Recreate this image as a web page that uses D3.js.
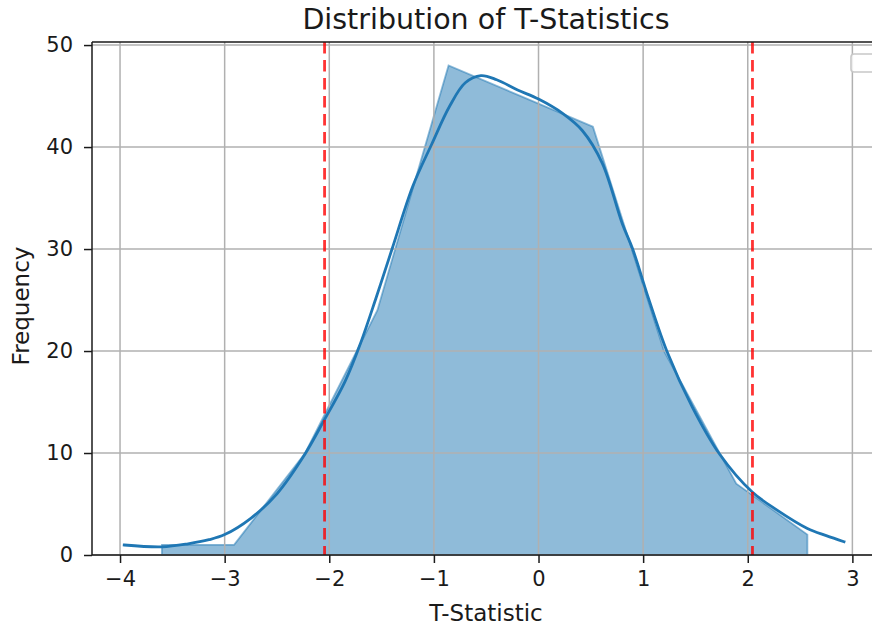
<!DOCTYPE html>
<html>
<head>
<meta charset="UTF-8">
<title>Distribution of T-Statistics</title>
<script src="https://cdn.jsdelivr.net/npm/d3@7"></script>
<style>
    body { margin: 0; background: #fff; }
    svg text { font-family: 'DejaVu Sans', sans-serif; fill: #1a1a1a; }
    .grid line { stroke: #b0b0b0; stroke-width: 1.5; }
</style>
</head>
<body>
<svg id="chart" width="872" height="632"></svg>
<script>
// histogram (poly element): bin centres and counts
var binCenters = [-3.60, -2.91, -2.23, -1.54, -0.86, -0.17, 0.52, 1.20, 1.89, 2.57];
var binCounts = [1, 1, 10, 24, 48, 45, 42, 20, 7, 2];

// kde curve scaled to counts
var kdeX = [-3.96, -3.6, -3.35, -3.15, -3.0, -2.75, -2.5, -2.25, -2.05, -1.85, -1.7, -1.55, -1.4, -1.2,
    -1.02, -0.85, -0.7, -0.55, -0.4, -0.2, 0.0, 0.23, 0.42, 0.61, 0.80, 0.90, 1.05, 1.23, 1.47, 1.73,
    2.04, 2.28, 2.57, 2.75, 2.92];
var kdeY = [0.98, 0.8, 1.1, 1.5, 2.0, 3.6, 6.0, 9.6, 13.2, 17.0, 20.8, 25.3, 30.0, 36.2,
    40.3, 44.0, 46.3, 47.0, 46.6, 45.6, 44.7, 43.3, 41.6, 38.4, 32.5, 30.0, 25.2, 19.9, 14.5, 9.9,
    6.2, 4.4, 2.6, 1.9, 1.3];

// critical values
var critLines = [-2.045, 2.045];

var xTicks = [-4, -3, -2, -1, 0, 1, 2, 3];
var yTicks = [0, 10, 20, 30, 40, 50];

var margin = { left: 92, top: 42, right: 880, bottom: 555 };

var svg = d3.select("#chart");

var x = d3.scaleLinear().domain([-4.268, 3.264]).range([margin.left, margin.right]);
var y = d3.scaleLinear().domain([0, 50.3]).range([margin.bottom, margin.top]);

// poly histogram
var polyData = binCenters.map(function(c, i) { return [c, binCounts[i]]; });
var area = d3.area()
    .x(function(d) { return x(d[0]); })
    .y0(y(0))
    .y1(function(d) { return y(d[1]); });

svg.append("path")
    .datum(polyData)
    .attr("d", area)
    .attr("fill", "#1f77b4")
    .attr("fill-opacity", 0.5)
    .attr("stroke", "#1f77b4")
    .attr("stroke-opacity", 0.5)
    .attr("stroke-width", 1.8);

// grid (above fill, below lines)
var grid = svg.append("g").attr("class", "grid");
grid.selectAll(".gx").data(xTicks).enter().append("line")
    .attr("x1", function(d) { return x(d); })
    .attr("x2", function(d) { return x(d); })
    .attr("y1", margin.top)
    .attr("y2", margin.bottom);
grid.selectAll(".gy").data(yTicks).enter().append("line")
    .attr("x1", margin.left)
    .attr("x2", margin.right)
    .attr("y1", function(d) { return y(d); })
    .attr("y2", function(d) { return y(d); });

// kde line
var kdeData = kdeX.map(function(v, i) { return [v, kdeY[i]]; });
var line = d3.line()
    .x(function(d) { return x(d[0]); })
    .y(function(d) { return y(d[1]); })
    .curve(d3.curveCatmullRom.alpha(0.5));

svg.append("path")
    .datum(kdeData)
    .attr("d", line)
    .attr("fill", "none")
    .attr("stroke", "#1f77b4")
    .attr("stroke-width", 2.8)
    .attr("stroke-linecap", "square");

// critical value lines
svg.selectAll(".crit").data(critLines).enter().append("line")
    .attr("class", "crit")
    .attr("x1", function(d) { return x(d); })
    .attr("x2", function(d) { return x(d); })
    .attr("y1", margin.top)
    .attr("y2", margin.bottom)
    .attr("stroke", "red")
    .attr("stroke-opacity", 0.8)
    .attr("stroke-width", 2.8)
    .attr("stroke-dasharray", "11.5,6.5");

// axes
var xAxis = svg.append("g")
    .attr("transform", "translate(0," + margin.bottom + ")")
    .call(d3.axisBottom(x).tickValues(xTicks).tickSize(8).tickPadding(8).tickFormat(d3.format("d")));
var yAxis = svg.append("g")
    .attr("transform", "translate(" + margin.left + ",0)")
    .call(d3.axisLeft(y).tickValues(yTicks).tickSize(8).tickPadding(11).tickFormat(d3.format("d")));

[xAxis, yAxis].forEach(function(g) {
    g.select(".domain").remove();
    g.selectAll(".tick line").attr("stroke", "#1a1a1a").attr("stroke-width", 1.5);
    g.selectAll(".tick text").style("font-size", "21px").attr("fill", "#1a1a1a");
});

// spines
svg.append("line").attr("x1", margin.left).attr("x2", margin.left)
    .attr("y1", margin.top).attr("y2", margin.bottom)
    .attr("stroke", "#1a1a1a").attr("stroke-width", 1.5);
svg.append("line").attr("x1", margin.left).attr("x2", margin.right)
    .attr("y1", margin.bottom).attr("y2", margin.bottom)
    .attr("stroke", "#1a1a1a").attr("stroke-width", 1.5);
svg.append("line").attr("x1", margin.left).attr("x2", margin.right)
    .attr("y1", margin.top).attr("y2", margin.top)
    .attr("stroke", "#1a1a1a").attr("stroke-width", 1.5);

// empty legend box
svg.append("rect")
    .attr("x", 851).attr("y", 54).attr("width", 26).attr("height", 18)
    .attr("rx", 3)
    .attr("fill", "#fff").attr("fill-opacity", 0.8)
    .attr("stroke", "#c8c8c8").attr("stroke-width", 1.6);

// titles
svg.append("text")
    .attr("x", (margin.left + margin.right) / 2)
    .attr("y", 29)
    .attr("text-anchor", "middle")
    .style("font-size", "28.5px")
    .text("Distribution of T-Statistics");

svg.append("text")
    .attr("x", (margin.left + margin.right) / 2)
    .attr("y", 621)
    .attr("text-anchor", "middle")
    .style("font-size", "23px")
    .text("T-Statistic");

svg.append("text")
    .attr("transform", "translate(29,306) rotate(-90)")
    .attr("text-anchor", "middle")
    .style("font-size", "23px")
    .text("Frequency");
</script>
</body>
</html>
